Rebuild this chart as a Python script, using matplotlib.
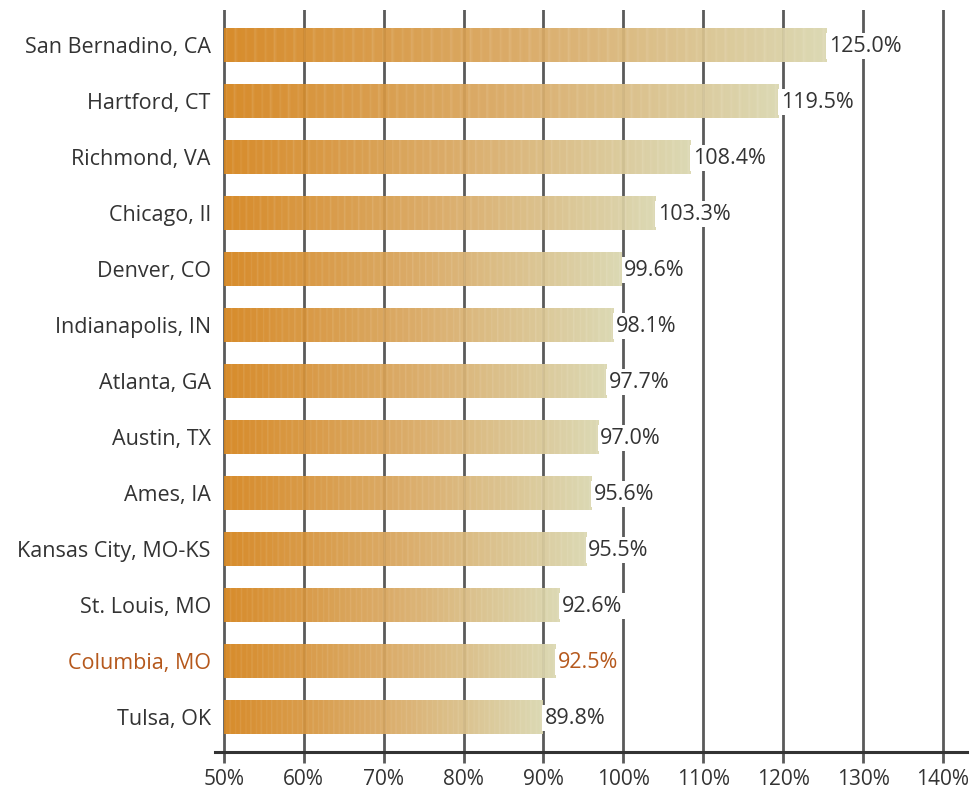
import numpy as np
import matplotlib
matplotlib.use("Agg")
import matplotlib.pyplot as plt
from matplotlib.colors import to_rgb

cities = ["San Bernadino, CA", "Hartford, CT", "Richmond, VA", "Chicago, Il",
          "Denver, CO", "Indianapolis, IN", "Atlanta, GA", "Austin, TX",
          "Ames, IA", "Kansas City, MO-KS", "St. Louis, MO", "Columbia, MO",
          "Tulsa, OK"]
# printed labels
values = [125.0, 119.5, 108.4, 103.3, 99.6, 98.1, 97.7, 97.0, 95.6, 95.5,
          92.6, 92.5, 89.8]
# bar ends as drawn in the original (they do not quite match the labels)
bar_ends = [125.4, 119.4, 108.4, 104.0, 99.8, 98.7, 97.9, 96.8, 96.0, 95.3,
            92.0, 91.5, 89.9]
highlight = "Columbia, MO"
ticks = [50, 60, 70, 80, 90, 100, 110, 120, 130, 140]

plt.rcParams['font.family'] = ['Open Sans', 'DejaVu Sans']

fig = plt.figure(figsize=(9.76, 7.9), dpi=100)
ax = fig.add_axes([0.2203, 0.0481, 0.7705, 0.9392])

base = 50
bar_h = 0.59
n = len(cities)
ax.set_xlim(48.9, 143)
ax.set_ylim(n - 1 + 0.62, -0.625)

for t in ticks:
    ax.axvline(t, color="#5a5a5a", lw=2, zorder=1)
ax.axhline(n - 1 + 0.62, color="#333333", lw=2.2, clip_on=False, zorder=3)

# gradient from deep orange to pale beige with thin light streaks
c0 = np.array(to_rgb("#D4831B"))
c1 = np.array(to_rgb("#D9A760"))
c2 = np.array(to_rgb("#DAD6AE"))
ncol = 400
s = np.linspace(0, 1, ncol)
grad = np.where(s[:, None] < 0.5,
                c0 + (c1 - c0) * (s[:, None] / 0.5),
                c1 + (c2 - c1) * ((s[:, None] - 0.5) / 0.5))
idx = np.arange(ncol)
streak = ((idx * 37) % 13) / 12.0
streak = np.where(streak > 0.7, (streak - 0.7) * 0.35, 0.0)
grad = grad + (1 - grad) * streak[:, None]
img = grad[None, :, :]

for i, (city, v, e) in enumerate(zip(cities, values, bar_ends)):
    ax.imshow(img, extent=[base, e, i + bar_h / 2, i - bar_h / 2],
              aspect="auto", zorder=2, alpha=0.93, interpolation="bilinear")
    col = "#B5581C" if city == highlight else "#333333"
    ax.text(e + 0.3, i + 0.02, f"{v:.1f}%", va="center", ha="left", fontsize=15.5,
            color=col, zorder=4,
            bbox=dict(boxstyle="square,pad=0.12", fc="white", ec="none"))

ax.set_yticks(range(n))
ax.set_yticklabels(cities, fontsize=15.5)
for lab in ax.get_yticklabels():
    lab.set_color("#B5581C" if lab.get_text() == highlight else "#333333")
ax.tick_params(axis="y", length=0, pad=3)

ax.set_xticks(ticks)
ax.set_xticklabels([f"{t}%" for t in ticks], fontsize=15, color="#333333")
ax.tick_params(axis="x", length=8, width=2, color="#5a5a5a", pad=4)

for sp in ax.spines.values():
    sp.set_visible(False)

fig.savefig("out.png", dpi=100)
